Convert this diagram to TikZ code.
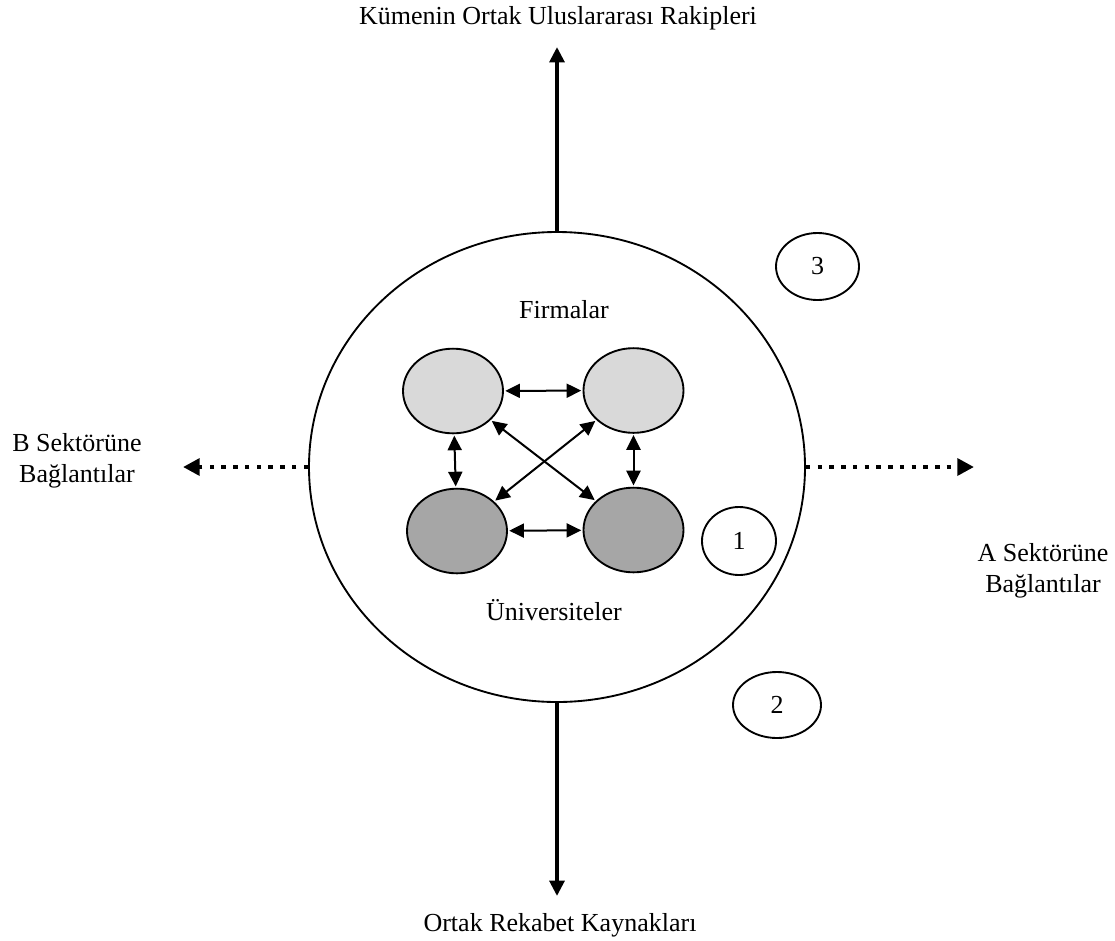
\documentclass[tikz,border=0pt]{standalone}
\usepackage{fontspec}
\setmainfont{Liberation Serif}
\usetikzlibrary{shapes.geometric,arrows.meta}
\definecolor{firmfill}{HTML}{D9D9D9}
\definecolor{unifill}{HTML}{A6A6A6}
\begin{document}
\begin{tikzpicture}[x=0.75pt,y=-0.75pt,
  every node/.style={font=\fontsize{19.5}{23}\selectfont},
  lbl/.style={inner sep=0pt,align=center},
  oval/.style={ellipse,draw,line width=1.4pt,inner sep=0pt},
  actor/.style={oval,minimum width=75pt,minimum height=63.5pt},
  firm/.style={actor,fill=firmfill},
  uni/.style={actor,fill=unifill},
  link/.style={{Triangle[length=11pt,width=10.5pt]}-{Triangle[length=11pt,width=10.5pt]},line width=1.5pt,shorten <=1pt,shorten >=1pt},
  mainarrow/.style={-{Triangle[length=11.5pt,width=11pt]},line width=3pt},
  sidearrow/.style={-{Triangle[length=12.5pt,width=12.5pt]},line width=3.4pt,dash pattern=on 3.4pt off 5.4pt}
]
\path[use as bounding box] (0,0) rectangle (1115,940);

% the cluster
\node[oval,minimum width=372pt,minimum height=352.5pt] (cluster) at (557,467) {};

% firms (top) and universities (bottom)
\node[firm] (f1) at (453,391) {};
\node[firm] (f2) at (633.5,390.5) {};
\node[uni]  (u1) at (457,531) {};
\node[uni]  (u2) at (633.5,530) {};

\node[lbl] (firmlbl) at (564,310) {Firmalar};
\node[lbl] (unilbl) at (554,610) {Üniversiteler};

% links between the actors
\draw[link] (f1) -- (f2);
\draw[link] (u1) -- (u2);
\draw[link] (f1) -- (u1);
\draw[link] (f2) -- (u2);
\draw[link] (f1) -- (u2);
\draw[link] (f2) -- (u1);

% numbered ovals
\node[oval,minimum width=55.5pt,minimum height=51pt] (n1) at (739,541) {1};
\node[oval,minimum width=66pt,minimum height=49.5pt] (n2) at (777,705) {2};
\node[oval,minimum width=62.25pt,minimum height=50.25pt] (n3) at (817.5,266.5) {3};

% outward relations
\coordinate (topend) at (557,47);
\coordinate (botend) at (557,896);
\coordinate (leftend) at (183,467);
\coordinate (rightend) at (974,467);

\draw[mainarrow] (cluster.north) -- (topend);
\draw[mainarrow] (cluster.south) -- (botend);
\draw[sidearrow] (cluster.west) -- (leftend);
\draw[sidearrow] (cluster.east) -- (rightend);

\node[lbl] (toplbl) at (558,18) {Kümenin Ortak Uluslararası Rakipleri};
\node[lbl] (botlbl) at (560,925) {Ortak Rekabet Kaynakları};
\node[lbl] (leftlbl) at (77,461) {B Sektörüne\\Bağlantılar};
\node[lbl] (rightlbl) at (1043,571) {A Sektörüne\\Bağlantılar};
\end{tikzpicture}
\end{document}
